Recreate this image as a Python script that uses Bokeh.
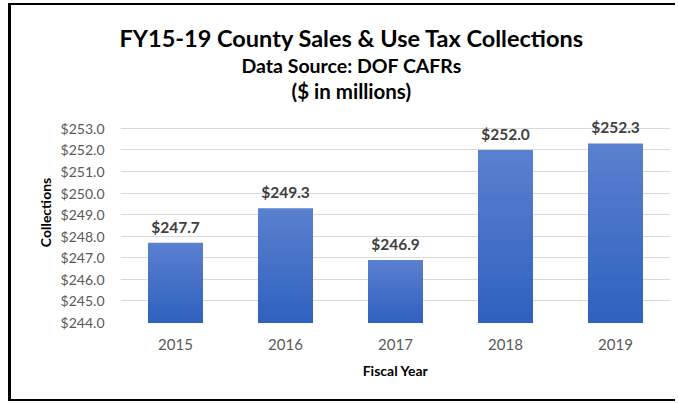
from bokeh.plotting import figure
from bokeh.models import (FactorRange, Range1d, FixedTicker, NumeralTickFormatter,
                          ColumnDataSource, LabelSet, Title)
from bokeh.core.properties import value
from bokeh.embed import file_html
from bokeh.resources import INLINE

# ---- data ----
years = ["2015", "2016", "2017", "2018", "2019"]
collections = [247.7, 249.3, 246.9, 252.0, 252.3]
y_ticks = [244.0, 245.0, 246.0, 247.0, 248.0, 249.0, 250.0, 251.0, 252.0, 253.0]
axis_min = 244.0
axis_top = 254.2   # a little headroom above the last tick so data labels are not clipped

title_text = "FY15-19 County Sales & Use Tax Collections"
subtitle1 = "Data Source: DOF CAFRs"
subtitle2 = "($ in millions)"
x_title = "Fiscal Year"
y_title = "Collections"

FONT = "Lato"
W, H = 667, 398

p = figure(x_range=FactorRange(*years, range_padding=0),
           y_range=Range1d(axis_min, axis_top),
           width=W, height=H, output_backend="svg", toolbar_location=None,
           min_border_left=109, min_border_right=8,
           min_border_top=97, min_border_bottom=81)
p.styles = {"margin-left": "8px", "margin-top": "3px",
            "border-left": "3px solid #000", "border-top": "2px solid #000",
            "border-bottom": "2px solid #000"}
p.outline_line_color = None
p.background_fill_color = "white"
p.border_fill_color = "white"
p.title.text = ""

# titles (added bottom-up: later ones sit further from the plot)
p.add_layout(Title(text=subtitle2, align="left", offset=171, standoff=0,
                   text_font=FONT, text_font_style="bold", text_font_size="20.5px",
                   text_color="#000000"), "above")
p.add_layout(Title(text=subtitle1, align="left", offset=121, standoff=0,
                   text_font=FONT, text_font_style="bold", text_font_size="19.5px",
                   text_color="#000000"), "above")
p.add_layout(Title(text=title_text, align="left", offset=-1, standoff=0,
                   text_font=FONT, text_font_style="bold", text_font_size="23.5px",
                   text_color="#000000"), "above")

# gradient bars: nested bars, each shorter one drawn over the previous,
# so the colour darkens smoothly from the top of each bar to its base
top_rgb = (0x5B, 0x80, 0xCF)
bot_rgb = (0x2F, 0x61, 0xBF)
N = 40
xs, bottoms, tops, colors = [], [], [], []
for yr, v in zip(years, collections):
    for k in range(N):
        frac = 1.0 - k / N
        fm = frac - 0.5 / N
        c = tuple(int(round(b + (t - b) * fm)) for b, t in zip(bot_rgb, top_rgb))
        xs.append(yr)
        bottoms.append(axis_min)
        tops.append(axis_min + (v - axis_min) * frac)
        colors.append("#%02x%02x%02x" % c)
src = ColumnDataSource(dict(x=xs, bottom=bottoms, top=tops, color=colors))
p.vbar(x="x", bottom="bottom", top="top", width=0.5, fill_color="color",
       line_color=None, source=src)

# data labels
lab_src = ColumnDataSource(dict(x=years, y=collections,
                                t=["$%.1f" % v for v in collections]))
p.add_layout(LabelSet(x="x", y="y", text="t", source=lab_src, y_offset=10,
                      text_align="center", text_baseline="alphabetic",
                      text_font=value(FONT), text_font_style="bold",
                      text_font_size="15.5px", text_color="#404040"))

# axes
p.yaxis.ticker = FixedTicker(ticks=y_ticks)
p.yaxis.formatter = NumeralTickFormatter(format="$0.0")
for ax in (p.xaxis[0], p.yaxis[0]):
    ax.axis_line_color = None
    ax.major_tick_line_color = None
    ax.minor_tick_line_color = None
    ax.major_tick_out = 0
    ax.major_tick_in = 0
    ax.minor_tick_out = 0
    ax.major_label_text_font = FONT
    ax.major_label_text_color = "#595959"
    ax.axis_label_text_font = FONT
    ax.axis_label_text_font_style = "bold"
    ax.axis_label_text_font_size = "14px"
    ax.axis_label_text_color = "#000000"
p.xaxis.major_label_text_font_size = "15px"
p.yaxis.major_label_text_font_size = "14px"
p.yaxis.major_label_standoff = 16
p.xaxis.major_label_standoff = 16
p.xaxis.axis_label = x_title
p.yaxis.axis_label = y_title
p.xaxis.axis_label_standoff = 9
p.yaxis.axis_label_standoff = 4
p.xgrid.grid_line_color = None
p.ygrid.grid_line_color = "#d9d9d9"
p.ygrid.grid_line_width = 1

open("out.html", "w").write(file_html(p, INLINE))
